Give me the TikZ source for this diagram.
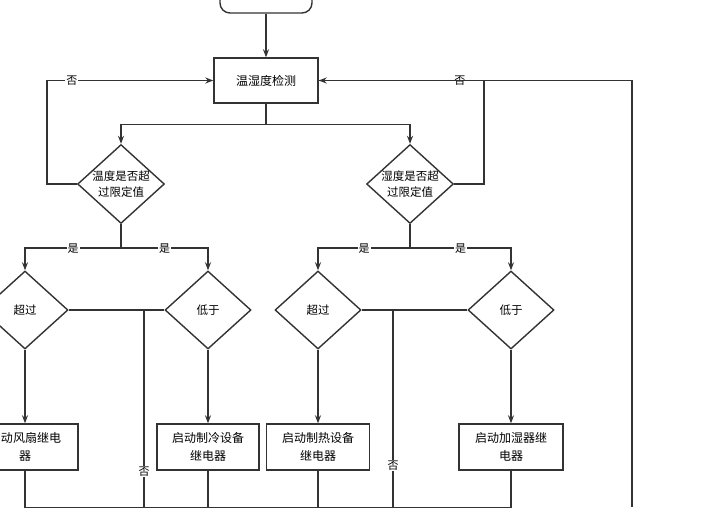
\documentclass[tikz,border=0pt]{standalone}
\usepackage{fontspec}
\usepackage{tikz}
\usetikzlibrary{arrows.meta,positioning,shapes.geometric}
\newfontfamily\cjk{Noto Sans CJK SC}

\tikzset{
    flow/.style={line width=1.4pt, draw=black!80},
    box/.style={draw=black!80, line width=1.4pt, rectangle, minimum height=46pt,
        align=center, inner sep=1pt, font=\cjk\fontsize{12}{18}\selectfont},
    decision/.style={draw=black!80, line width=1.4pt, diamond, aspect=1.1,
        minimum width=86pt, minimum height=78pt, inner sep=0pt, align=center,
        font=\cjk\fontsize{11.5}{16}\selectfont},
    lbl/.style={fill=white, inner sep=1pt, font=\cjk\fontsize{11}{11}\selectfont},
}

\begin{document}
\begin{tikzpicture}[>={Stealth[length=8pt,width=6pt]}, x=1pt, y=-1pt]
    \useasboundingbox (0,0) rectangle (706,531);

    % Start and detection
    \node[draw=black!80, line width=1.4pt, rounded corners=10pt,
        minimum width=92pt, minimum height=46pt] (start) at (266,-10) {};
    \node[box, minimum width=104pt, minimum height=45pt] (detect) at (266,80.5) {温湿度检测};

    % Decisions
    \node[decision] (temp) at (121,184) {温度是否超\\过限定值};
    \node[decision] (humi) at (410,184) {湿度是否超\\过限定值};
    \node[decision] (thigh) at (25,310) {超过};
    \node[decision] (tlow) at (208,310) {低于};
    \node[decision] (hhigh) at (318,310) {超过};
    \node[decision] (hlow) at (511,310) {低于};

    % Relays
    \node[box, minimum width=106pt] (fan) at (25,447) {启动风扇继电\\器};
    \node[box, minimum width=102pt] (cool) at (208,447) {启动制冷设备\\继电器};
    \node[box, minimum width=103pt] (heat) at (318,447) {启动制热设备\\继电器};
    \node[box, minimum width=104pt] (wet) at (511,447) {启动加湿器继\\电器};

    % Free ends
    \coordinate (tno) at (144,310);
    \coordinate (hno) at (393,310);
    \coordinate (loop) at (632,507);

    % Main flow
    \draw[flow,->] (start) -- (detect);
    \draw[flow,->] (detect.south) -- ++(0,21) -| (temp.north);
    \draw[flow,->] (detect.south) -- ++(0,21) -| (humi.north);

    % No branches back to detection
    \draw[flow,->] (temp.west) -- ++(-30,0) |- node[lbl,pos=0.575] {否} (detect.west);
    \draw[flow] (humi.east) -- ++(30,0) |- node[lbl,pos=0.573] {否} (detect.east);
    \draw[flow,->] (loop) |- (detect.east);

    % Yes branches
    \draw[flow,->] (temp.south) -- ++(0,24) -| node[lbl,pos=0.25] {是} (thigh.north);
    \draw[flow,->] (temp.south) -- ++(0,24) -| node[lbl,pos=0.25] {是} (tlow.north);
    \draw[flow,->] (humi.south) -- ++(0,24) -| node[lbl,pos=0.25] {是} (hhigh.north);
    \draw[flow,->] (humi.south) -- ++(0,24) -| node[lbl,pos=0.25] {是} (hlow.north);

    % To relays
    \draw[flow,->] (thigh) -- (fan);
    \draw[flow,->] (tlow) -- (cool);
    \draw[flow,->] (hhigh) -- (heat);
    \draw[flow,->] (hlow) -- (wet);

    % Neither high nor low
    \draw[flow] (thigh.east) -- (tlow.west);
    \draw[flow] (hhigh.east) -- (hlow.west);
    \draw[flow] (tno) -- node[lbl,pos=0.82] {否} ++(0,197);
    \draw[flow] (hno) -- node[lbl,pos=0.79] {否} ++(0,197);

    % Collect
    \draw[flow] (fan.south) -- ++(0,37) -| (wet.south);
    \draw[flow] (cool.south) -- ++(0,37);
    \draw[flow] (heat.south) -- ++(0,37);
\end{tikzpicture}
\end{document}
